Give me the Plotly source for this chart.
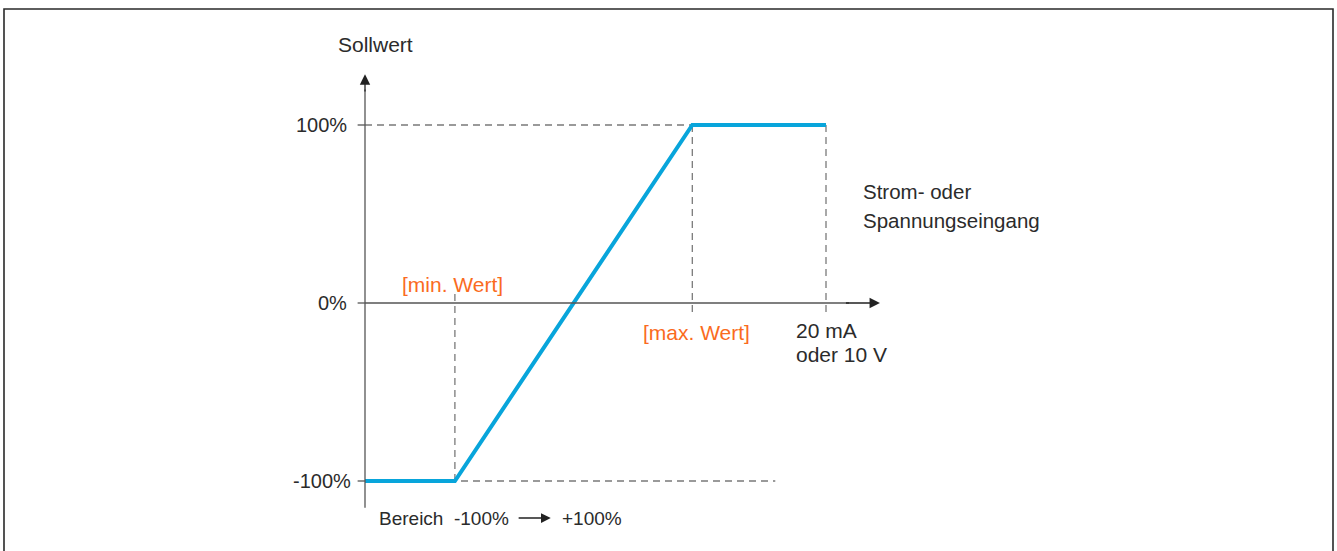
import plotly.graph_objects as go

# Characteristic: setpoint versus analog input (0 .. 100 = 20 mA / 10 V)
input_pct = [0, 19.5, 71, 100]
setpoint_pct = [-100, -100, 100, 100]

min_value_x = 19.5
max_value_x = 71
full_scale_x = 100
dash_end_x = 89

y_ticks = [100, 0, -100]
y_tick_labels = ["100%", "0%", "-100%"]
y_label_x = [-3.5, -3.5, -2.6]

FONT = "Liberation Sans, Arial, sans-serif"
TXT = "#2b2b2b"
AXIS = "#555555"
DASH = "#7a7a7a"
BLUE = "#08a5db"
ORANGE = "#fa6b1e"

fig = go.Figure()

# Guide lines (dashed)
def dashed(x0, y0, x1, y1):
    fig.add_shape(type="line", x0=x0, y0=y0, x1=x1, y1=y1, xref="x", yref="y",
                  line=dict(color=DASH, width=1.3, dash="7px,5px"), layer="below")

dashed(0, 100, dash_end_x, 100)
dashed(0, -100, dash_end_x, -100)
dashed(min_value_x, -100, min_value_x, 5)
dashed(max_value_x, 100, max_value_x, -7)
dashed(full_scale_x, 100, full_scale_x, -7)

# Axes with arrowheads
fig.add_shape(type="line", x0=0, y0=-115, x1=0, y1=120, xref="x", yref="y",
              line=dict(color=AXIS, width=1.3))
fig.add_shape(type="line", x0=0, y0=0, x1=105, y1=0, xref="x", yref="y",
              line=dict(color=AXIS, width=1.3))
fig.add_annotation(x=0, y=128.5, ax=0, ay=118, xref="x", yref="y", axref="x", ayref="y",
                   showarrow=True, arrowhead=2, arrowsize=1.6, arrowwidth=1.3,
                   arrowcolor="#222222", text="", standoff=0)
fig.add_annotation(x=111.7, y=0, ax=104, ay=0, xref="x", yref="y", axref="x", ayref="y",
                   showarrow=True, arrowhead=2, arrowsize=1.6, arrowwidth=1.3,
                   arrowcolor="#222222", text="", standoff=0)

def label(x, y, text, size, color=TXT, xanchor="left"):
    fig.add_annotation(x=x, y=y, xref="x", yref="y", text=text, showarrow=False,
                       xanchor=xanchor, yanchor="middle",
                       font=dict(family=FONT, size=size, color=color))

# Y tick marks and labels
for yv, lab, lx in zip(y_ticks, y_tick_labels, y_label_x):
    fig.add_shape(type="line", x0=-1.6, y0=yv, x1=0, y1=yv, xref="x", yref="y",
                  line=dict(color=AXIS, width=1.3))
    label(lx, yv, lab, 20, xanchor="right")

# Characteristic curve
fig.add_trace(go.Scatter(x=input_pct, y=setpoint_pct, mode="lines",
                         line=dict(color=BLUE, width=4), hoverinfo="skip",
                         showlegend=False))

label(2.2, 145, "Sollwert", 21, xanchor="center")
label(min_value_x - 0.5, 10.5, "[min. Wert]", 21, ORANGE, "center")
label(max_value_x + 1.0, -16.5, "[max. Wert]", 21, ORANGE, "center")
label(93.0, -15.2, "20 mA", 21)
label(93.0, -29.2, "oder 10 V", 21)
label(107.6, 62.4, "Strom- oder", 20.5)
label(107.6, 46.1, "Spannungseingang", 20.5)
label(2.7, -121, "Bereich  -100%", 19)
label(42.4, -121, "+100%", 19)
fig.add_annotation(x=40.3, y=-120.8, ax=33.0, ay=-120.8, xref="x", yref="y",
                   axref="x", ayref="y", showarrow=True, arrowhead=2, arrowsize=1.5,
                   arrowwidth=1.3, arrowcolor="#222222", text="", standoff=0)

# Frame
fig.add_shape(type="rect", xref="paper", yref="paper",
              x0=4 / 1337, x1=1333 / 1337, y0=-0.05, y1=1 - 9 / 551,
              line=dict(color="#2a2a2a", width=1.6))

px_x = 4.61
px_y = 1.78
fig.update_layout(
    width=1337, height=551,
    margin=dict(l=0, r=0, t=0, b=0),
    paper_bgcolor="white", plot_bgcolor="white",
    xaxis=dict(visible=False, range=[-365 / px_x, (1337 - 365) / px_x], fixedrange=True),
    yaxis=dict(visible=False, range=[-(551 - 303) / px_y, 303 / px_y], fixedrange=True),
    showlegend=False,
)

fig.write_html("out.html")
